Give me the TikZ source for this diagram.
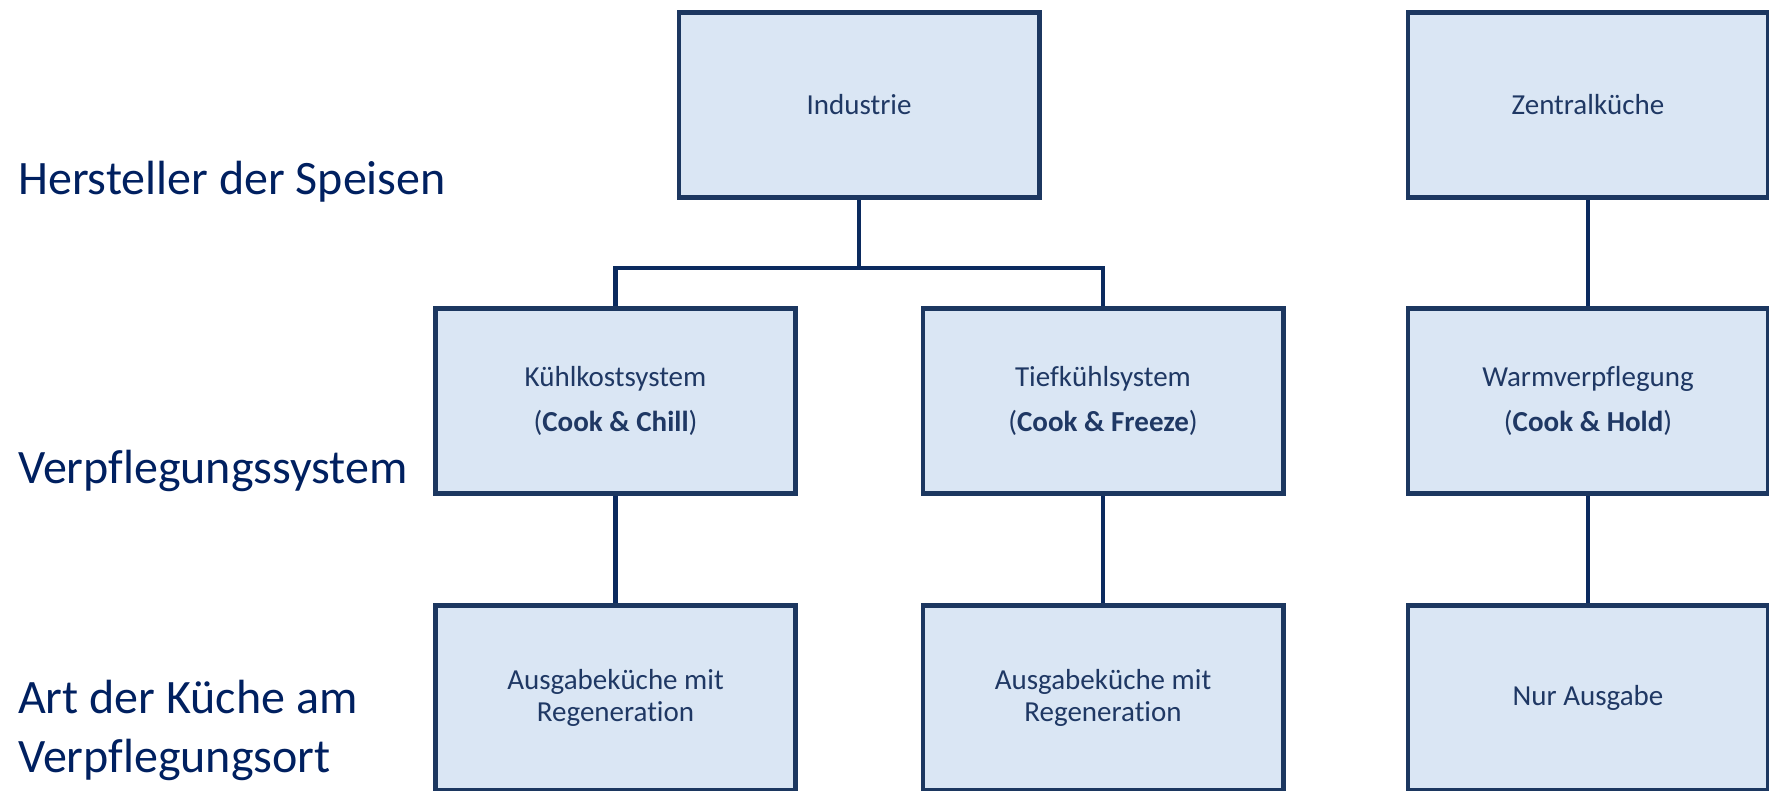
\documentclass[tikz,border=0pt]{standalone}
\usepackage{fontspec}
\setmainfont[RawFeature=-liga]{Carlito}
\definecolor{boxfill}{HTML}{DAE6F4}
\definecolor{boxline}{HTML}{1C3760}
\definecolor{conn}{HTML}{0B2A5E}
\definecolor{boxtext}{HTML}{1F3864}
\definecolor{labtext}{HTML}{002060}
\tikzset{
  orgbox/.style={draw=boxline, fill=boxfill, line width=4.7pt, minimum width=360.3pt,
    minimum height=185.3pt, inner sep=0pt, align=center, text=boxtext,
    font=\fontsize{29}{32.5}\selectfont},
  connline/.style={draw=conn, line width=4.7pt},
  rowlabel/.style={anchor=base west, inner sep=0pt, text=labtext,
    font=\fontsize{48}{58}\selectfont}
}
\begin{document}
\begin{tikzpicture}[x=1pt,y=-1pt]
\clip (0,0) rectangle (1769,791);
\fill[white] (0,0) rectangle (1769,791);
% connectors
\coordinate (bar) at (859,268);
% boxes
\node[orgbox] (ind) at (859,105) {Industrie};
\node[orgbox] (zen) at (1588,105) {Zentralküche};
\node[orgbox] (kuehl) at (615.5,401) {Kühlkostsystem\\[13pt](\textbf{Cook \& Chill})};
\node[orgbox] (tief) at (1103,401) {Tiefkühlsystem\\[13pt](\textbf{Cook \& Freeze})};
\node[orgbox] (warm) at (1588,401) {Warmverpflegung\\[13pt](\textbf{Cook \& Hold})};
\node[orgbox] (ausg1) at (615.5,698) {Ausgabeküche mit\\Regeneration};
\node[orgbox] (ausg2) at (1103,698) {Ausgabeküche mit\\Regeneration};
\node[orgbox] (nur) at (1588,698) {Nur Ausgabe};
\draw[connline] (ind.south) -- (bar);
\draw[connline] (kuehl.north) |- (bar) -| (tief.north);
\draw[connline] (zen.south) -- (warm.north);
\draw[connline] (kuehl.south) -- (ausg1.north);
\draw[connline] (tief.south) -- (ausg2.north);
\draw[connline] (warm.south) -- (nur.north);
% row labels
\node[rowlabel] (lab1) at (18,195) {Hersteller der Speisen};
\node[rowlabel] (lab2) at (18,483) {Verpflegungssystem};
\node[rowlabel] (lab3a) at (18,713) {Art der Küche am};
\node[rowlabel] (lab3b) at (18,772) {Verpflegungsort};
\end{tikzpicture}
\end{document}
